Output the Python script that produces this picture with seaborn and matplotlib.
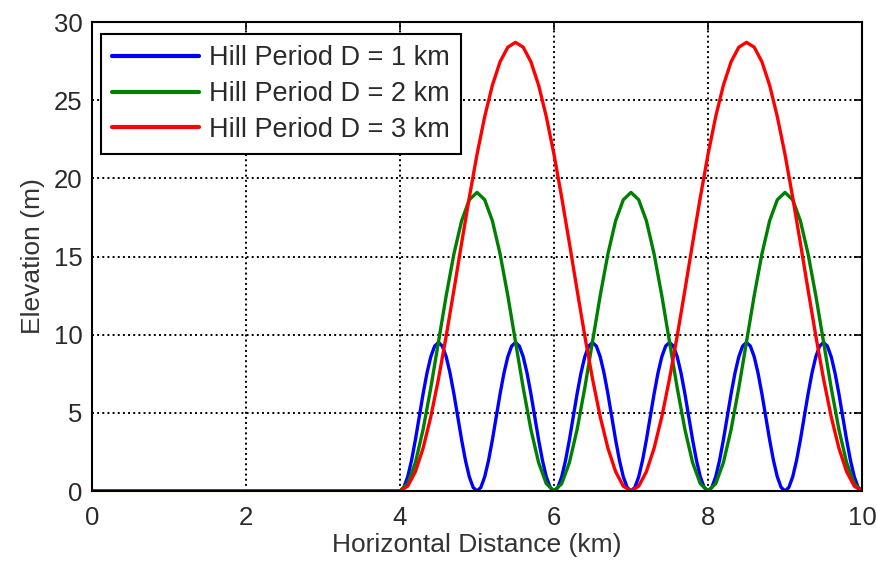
import numpy as np
import pandas as pd
import matplotlib
matplotlib.use("Agg")
import matplotlib.pyplot as plt
import seaborn as sns

# ---- data ----
labels = ["Hill Period D = 1 km", "Hill Period D = 2 km", "Hill Period D = 3 km"]
colors = ["#0000ff", "#008000", "#ff0000"]

x_d1 = [0.0] + list(np.round(np.arange(4.0, 10.0001, 0.05), 2))
y_d1 = [0.0,
        0, 0.23, 0.91, 1.96, 3.28, 4.75, 6.22, 7.54, 8.59, 9.27, 9.5, 9.27, 8.59, 7.54, 6.22, 4.75, 3.28, 1.96, 0.91, 0.23,
        0, 0.23, 0.91, 1.96, 3.28, 4.75, 6.22, 7.54, 8.59, 9.27, 9.5, 9.27, 8.59, 7.54, 6.22, 4.75, 3.28, 1.96, 0.91, 0.23,
        0, 0.23, 0.91, 1.96, 3.28, 4.75, 6.22, 7.54, 8.59, 9.27, 9.5, 9.27, 8.59, 7.54, 6.22, 4.75, 3.28, 1.96, 0.91, 0.23,
        0, 0.23, 0.91, 1.96, 3.28, 4.75, 6.22, 7.54, 8.59, 9.27, 9.5, 9.27, 8.59, 7.54, 6.22, 4.75, 3.28, 1.96, 0.91, 0.23,
        0, 0.23, 0.91, 1.96, 3.28, 4.75, 6.22, 7.54, 8.59, 9.27, 9.5, 9.27, 8.59, 7.54, 6.22, 4.75, 3.28, 1.96, 0.91, 0.23,
        0, 0.23, 0.91, 1.96, 3.28, 4.75, 6.22, 7.54, 8.59, 9.27, 9.5, 9.27, 8.59, 7.54, 6.22, 4.75, 3.28, 1.96, 0.91, 0.23,
        0]

x_d2 = [0.0] + list(np.round(np.arange(4.0, 10.0001, 0.1), 2))
y_d2 = [0.0,
        0, 0.47, 1.82, 3.94, 6.60, 9.55, 12.50, 15.16, 17.28, 18.63, 19.1, 18.63, 17.28, 15.16, 12.50, 9.55, 6.60, 3.94, 1.82, 0.47,
        0, 0.47, 1.82, 3.94, 6.60, 9.55, 12.50, 15.16, 17.28, 18.63, 19.1, 18.63, 17.28, 15.16, 12.50, 9.55, 6.60, 3.94, 1.82, 0.47,
        0, 0.47, 1.82, 3.94, 6.60, 9.55, 12.50, 15.16, 17.28, 18.63, 19.1, 18.63, 17.28, 15.16, 12.50, 9.55, 6.60, 3.94, 1.82, 0.47,
        0]

x_d3 = [0.0] + list(np.round(np.arange(4.0, 10.0001, 0.1), 2))
y_d3 = [0.0,
        0, 0.31, 1.24, 2.74, 4.75, 7.18, 9.92, 12.85, 15.85, 18.78, 21.53, 23.95, 25.96, 27.46, 28.39,
        28.7, 28.39, 27.46, 25.96, 23.95, 21.53, 18.78, 15.85, 12.85, 9.92, 7.18, 4.75, 2.74, 1.24, 0.31,
        0, 0.31, 1.24, 2.74, 4.75, 7.18, 9.92, 12.85, 15.85, 18.78, 21.53, 23.95, 25.96, 27.46, 28.39,
        28.7, 28.39, 27.46, 25.96, 23.95, 21.53, 18.78, 15.85, 12.85, 9.92, 7.18, 4.75, 2.74, 1.24, 0.31,
        0]

x_ticks = [0, 2, 4, 6, 8, 10]
y_ticks = [0, 5, 10, 15, 20, 25, 30]

frames = []
for lab, xs, ys in zip(labels, [x_d1, x_d2, x_d3], [y_d1, y_d2, y_d3]):
    frames.append(pd.DataFrame({"x": xs, "y": ys, "series": lab}))
df = pd.concat(frames, ignore_index=True)

sns.set_theme(style="white")
plt.rcParams["font.family"] = ["Liberation Sans", "DejaVu Sans"]

FS = 18.5
fig = plt.figure(figsize=(8.77, 5.62), dpi=100)
ax = fig.add_axes([0.1049, 0.1263, 0.878, 0.8345])

sns.lineplot(data=df, x="x", y="y", hue="series", hue_order=labels,
             palette=colors, estimator=None, sort=False, linewidth=2.4, ax=ax)
for ln in ax.get_lines():
    ln.set_solid_joinstyle("round")

ax.set_xlim(0, 10)
ax.set_ylim(0, 30)
ax.set_xticks(x_ticks)
ax.set_yticks(y_ticks)
ax.grid(True, color="black", linestyle=":", linewidth=1.4)
ax.set_axisbelow(True)

for s in ax.spines.values():
    s.set_visible(True)
    s.set_color("black")
    s.set_linewidth(1.5)

ax.tick_params(direction="in", length=6, width=1.2, top=True, right=True,
               labelsize=FS, colors="black")
ax.tick_params(axis="x", pad=11)
ax.tick_params(axis="y", pad=7)
for t in ax.get_xticklabels() + ax.get_yticklabels():
    t.set_color("#2a2a2a")

ax.set_xlabel("Horizontal Distance (km)", fontsize=19, color="#333333", labelpad=2)
ax.set_ylabel("Elevation (m)", fontsize=19, color="#333333", labelpad=6)

leg = ax.legend(loc="upper left", bbox_to_anchor=(0.0117, 0.9744), borderaxespad=0,
                fontsize=19.5, handlelength=3.2, handletextpad=0.35, borderpad=0.42,
                labelspacing=0.36, fancybox=False, framealpha=1)
leg.get_frame().set_edgecolor("black")
leg.get_frame().set_linewidth(1.5)
for line in leg.get_lines():
    line.set_linewidth(3)
for t in leg.get_texts():
    t.set_color("#2a2a2a")

fig.savefig("out.png", dpi=100)
